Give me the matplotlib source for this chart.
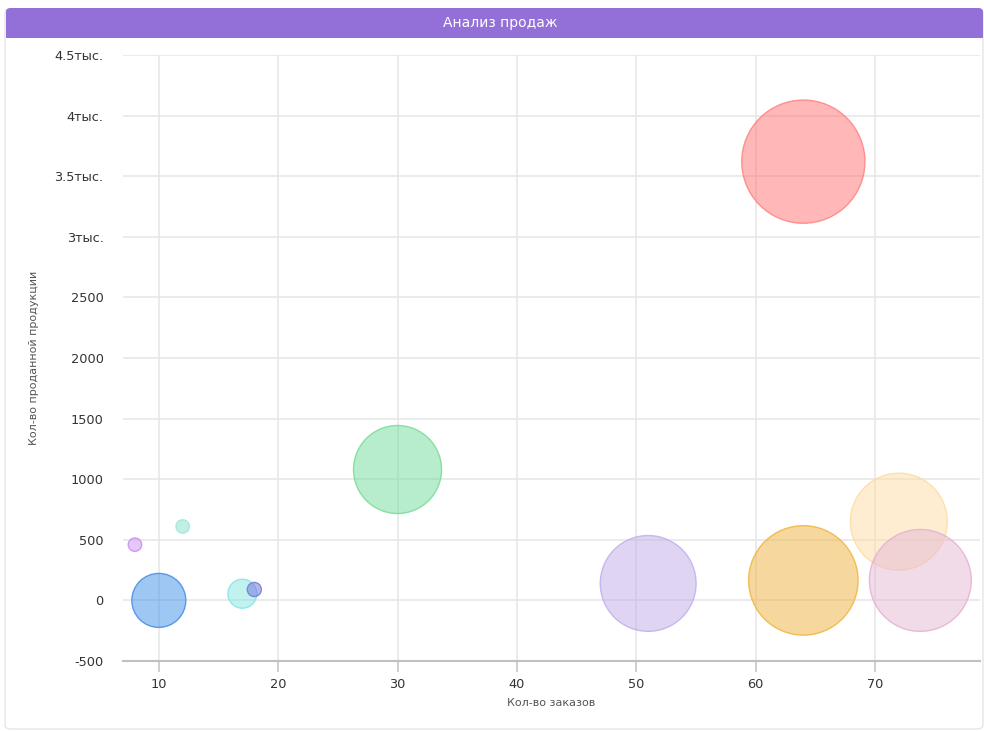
import matplotlib
matplotlib.use("Agg")
import matplotlib.pyplot as plt
from matplotlib.patches import FancyBboxPatch, Rectangle
from matplotlib.ticker import FixedLocator, FixedFormatter

# data
orders = [10, 8, 12, 17, 18, 30, 51, 64, 64, 72, 73.8]
sold = [0, 460, 610, 55, 90, 1080, 140, 165, 3620, 650, 165]
bubble_z = [730, 45, 45, 210, 50, 1940, 2300, 3000, 3800, 2350, 2600]
fill_colors = ["#4191eb", "#cd91f5", "#87e1cd", "#87e7e1", "#6e6edc", "#71dd9d",
               "#c1ade7", "#efb341", "#ff7171", "#ffdda5", "#e5b9d5"]
edge_colors = ["#468ce6", "#c88cf0", "#a0e6da", "#82e6e6", "#7a7ad6", "#78dc96",
               "#beaff0", "#f0b43c", "#ff8282", "#fddca0", "#e6afd2"]

y_ticks = [-500, 0, 500, 1000, 1500, 2000, 2500, 3000, 3500, 4000, 4500]
y_tick_labels = ["-500", "0", "500", "1000", "1500", "2000", "2500",
                 "3тыс.", "3.5тыс.", "4тыс.", "4.5тыс."]
x_ticks = [10, 20, 30, 40, 50, 60, 70]

fig = plt.figure(figsize=(9.84, 7.31), dpi=100)

# card and title bar, kept behind the axes
card = FancyBboxPatch((5 / 984, 2 / 731), 978 / 984, 720 / 731,
                      boxstyle="round,pad=0,rounding_size=0.006",
                      transform=fig.transFigure, facecolor="white",
                      edgecolor="#e6e6e6", linewidth=1, zorder=-3)
fig.patches.append(card)
bar = FancyBboxPatch((6 / 984, 693 / 731), 977 / 984, 30 / 731,
                     boxstyle="round,pad=0,rounding_size=0.005",
                     transform=fig.transFigure, facecolor="#9370d8",
                     edgecolor="none", zorder=-2)
fig.patches.append(bar)
fig.patches.append(Rectangle((6 / 984, 693 / 731), 977 / 984, 10 / 731,
                             transform=fig.transFigure, facecolor="#9370d8",
                             edgecolor="none", zorder=-2))
fig.text(500 / 984, 708 / 731, "Анализ продаж", color="white", fontsize=10,
         ha="center", va="center")

ax = fig.add_axes([123 / 984, 70 / 731, 857 / 984, 606 / 731])
ax.set_facecolor("none")

for i in range(len(orders)):
    ax.scatter(orders[i], sold[i], s=bubble_z[i] * 2.07, facecolor=fill_colors[i],
               alpha=0.5, edgecolor="none", zorder=3 + i)
    ax.scatter(orders[i], sold[i], s=bubble_z[i] * 2.07, facecolor="none",
               edgecolor=edge_colors[i], linewidth=1.0, alpha=0.85, zorder=3 + i)

ax.set_xlim(7, 78.8)
ax.set_ylim(-500, 4500)
ax.xaxis.set_major_locator(FixedLocator(x_ticks))
ax.yaxis.set_major_locator(FixedLocator(y_ticks))
ax.yaxis.set_major_formatter(FixedFormatter(y_tick_labels))

ax.grid(True, color="#e6e6e6", linewidth=1.1, zorder=0)
ax.set_axisbelow(True)
for side in ["top", "right", "left"]:
    ax.spines[side].set_visible(False)
ax.spines["bottom"].set_color("#c0c0c0")
ax.spines["bottom"].set_linewidth(1.5)

ax.tick_params(axis="y", length=0, pad=14, labelsize=9.3, labelcolor="#333333")
ax.tick_params(axis="x", length=8, width=1.3, color="#cccccc", pad=4,
               labelsize=9.3, labelcolor="#333333")

ax.set_xlabel("Кол-во заказов", fontsize=8, color="#555555", labelpad=5)
ax.set_ylabel("Кол-во проданной продукции", fontsize=8, color="#555555")
ax.yaxis.set_label_coords(-0.098, 0.5)

fig.savefig("out.png", dpi=100)
